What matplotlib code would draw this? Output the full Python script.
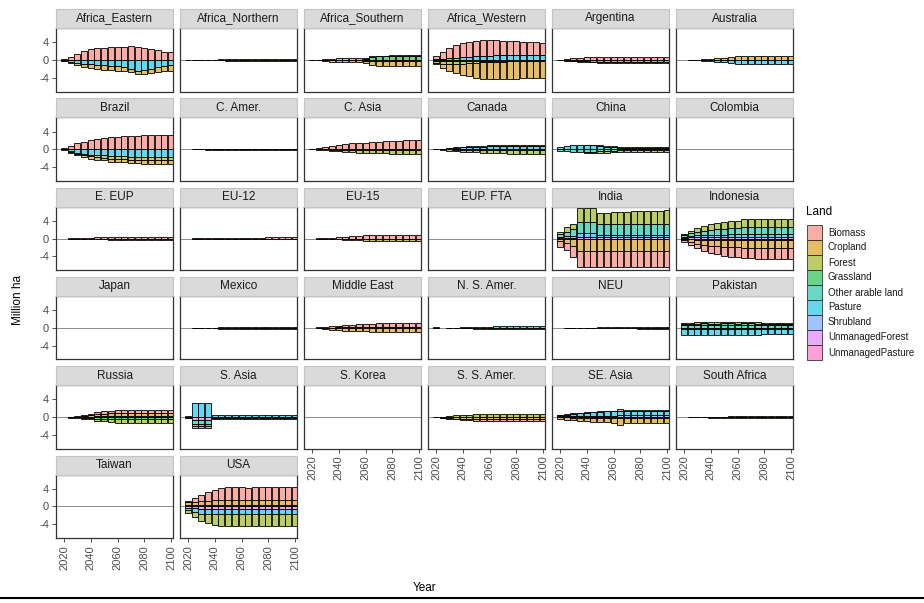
import numpy as np
import matplotlib.pyplot as plt
from matplotlib.patches import Rectangle
from matplotlib.lines import Line2D
from matplotlib.colors import to_rgba

plt.rcParams['font.family'] = ['Liberation Sans', 'DejaVu Sans']

years = np.arange(2020, 2101, 5)
lands = ['Biomass', 'Cropland', 'Forest', 'Grassland', 'Other arable land',
         'Pasture', 'Shrubland', 'UnmanagedForest', 'UnmanagedPasture']
land_colors = ['#F8766D', '#D39200', '#93AA00', '#00BA38', '#00C19F',
               '#00B9E3', '#619CFF', '#DB72FB', '#FF61C3']

# land change per region, million ha, 2020..2100 every 5 years
africa_eastern = {
    'Biomass':  [0.3, 0.7, 1.4, 2.0, 2.4, 2.6, 2.8, 2.9, 2.9, 3.0, 3.1, 3.0, 2.8, 2.5, 2.2, 1.9, 1.7],
    'Pasture':  [-0.2, -0.4, -0.7, -0.9, -1.0, -1.1, -1.2, -1.3, -1.4, -1.5, -2.0, -2.4, -2.2, -2.0, -1.6, -1.3, -1.1],
    'Cropland': [-0.1, -0.3, -0.5, -0.7, -0.9, -1.0, -1.0, -1.0, -1.0, -1.0, -0.8, -0.7, -0.9, -1.0, -1.1, -1.2, -1.3],
}
africa_northern = {
    'Biomass':  [0.0, 0.02, 0.05, 0.08, 0.1, 0.12, 0.15, 0.18, 0.2, 0.22, 0.25, 0.25, 0.28, 0.3, 0.3, 0.3, 0.3],
    'Forest':   [-0.02, -0.04, -0.06, -0.08, -0.1, -0.1, -0.12, -0.12, -0.15, -0.15, -0.15, -0.15, -0.15, -0.15, -0.15, -0.15, -0.15],
}
africa_southern = {
    'Biomass':   [0.05, 0.1, 0.2, 0.3, 0.4, 0.4, 0.45, 0.45, 0.3, 0.2, 0.2, 0.2, 0.2, 0.2, 0.2, 0.2, 0.2],
    'Grassland': [0.0, 0.0, 0.0, 0.0, 0.0, 0.0, 0.0, 0.0, 0.2, 0.7, 0.8, 0.8, 0.9, 0.9, 0.9, 0.9, 0.9],
    'Cropland':  [-0.05, -0.1, -0.2, -0.3, -0.4, -0.4, -0.45, -0.45, -0.5, -0.9, -1.0, -1.0, -1.0, -1.0, -1.0, -1.0, -1.0],
    'Forest':    [0.0, 0.0, -0.05, -0.1, -0.1, -0.1, -0.1, -0.1, -0.2, -0.3, -0.3, -0.3, -0.3, -0.3, -0.3, -0.3, -0.3],
}
africa_western = {
    'Biomass':   [0.8, 1.5, 2.2, 2.8, 3.2, 3.4, 3.5, 3.5, 3.4, 3.3, 3.2, 3.1, 3.0, 2.9, 2.8, 2.8, 2.7],
    'Pasture':   [0.1, 0.2, 0.3, 0.4, 0.5, 0.6, 0.7, 0.8, 0.9, 1.0, 1.0, 1.1, 1.1, 1.1, 1.1, 1.1, 1.1],
    'UnmanagedForest': [0.1, 0.1, 0.1, 0.1, 0.1, 0.1, 0.1, 0.1, 0.1, 0.1, 0.1, 0.1, 0.1, 0.1, 0.1, 0.1, 0.1],
    'Cropland':  [-0.4, -0.9, -1.5, -2.1, -2.6, -3.0, -3.4, -3.7, -3.8, -3.9, -3.9, -3.9, -3.9, -3.8, -3.8, -3.8, -3.8],
    'Forest':    [-0.4, -0.5, -0.6, -0.6, -0.6, -0.5, -0.4, -0.3, -0.2, -0.2, -0.2, -0.1, -0.1, -0.1, -0.1, -0.1, -0.1],
    'Grassland': [-0.2, -0.3, -0.3, -0.3, -0.2, -0.2, -0.2, -0.2, -0.2, -0.2, -0.2, -0.2, -0.2, -0.2, -0.2, -0.2, -0.2],
}
argentina = {
    'Biomass':   [0.05, 0.2, 0.35, 0.5, 0.6, 0.65, 0.7, 0.7, 0.7, 0.7, 0.7, 0.7, 0.7, 0.7, 0.7, 0.7, 0.7],
    'Grassland': [-0.05, -0.1, -0.2, -0.25, -0.3, -0.35, -0.4, -0.4, -0.4, -0.4, -0.4, -0.4, -0.4, -0.4, -0.4, -0.4, -0.4],
    'Forest':    [0.0, -0.05, -0.1, -0.1, -0.15, -0.15, -0.2, -0.2, -0.2, -0.2, -0.2, -0.2, -0.2, -0.2, -0.2, -0.2, -0.2],
}
australia = {
    'Cropland':  [0.0, 0.05, 0.1, 0.2, 0.3, 0.4, 0.5, 0.6, 0.9, 1.0, 1.0, 1.0, 1.0, 1.0, 1.0, 1.0, 1.0],
    'Pasture':   [0.0, -0.05, -0.1, -0.2, -0.3, -0.4, -0.5, -0.6, -0.9, -1.0, -1.0, -1.0, -1.0, -1.0, -1.0, -1.0, -1.0],
}
brazil = {
    'Biomass':   [0.3, 0.8, 1.3, 1.7, 2.0, 2.3, 2.5, 2.7, 2.8, 2.9, 3.0, 3.1, 3.2, 3.2, 3.3, 3.3, 3.3],
    'Pasture':   [-0.2, -0.5, -0.8, -1.0, -1.2, -1.3, -1.4, -1.5, -1.6, -1.6, -1.7, -1.7, -1.8, -1.8, -1.8, -1.8, -1.8],
    'Cropland':  [0.0, -0.2, -0.3, -0.4, -0.5, -0.6, -0.6, -0.7, -0.7, -0.7, -0.8, -0.8, -0.8, -0.8, -0.8, -0.8, -0.8],
    'Forest':    [0.0, -0.1, -0.2, -0.3, -0.4, -0.5, -0.5, -0.6, -0.6, -0.6, -0.7, -0.7, -0.7, -0.7, -0.7, -0.7, -0.7],
}
c_amer = {
    'Biomass':   [0.0, 0.02, 0.04, 0.06, 0.08, 0.1, 0.1, 0.12, 0.12, 0.15, 0.15, 0.15, 0.15, 0.15, 0.15, 0.15, 0.15],
    'Forest':    [0.0, -0.02, -0.04, -0.06, -0.08, -0.1, -0.1, -0.12, -0.12, -0.15, -0.15, -0.15, -0.15, -0.15, -0.15, -0.15, -0.15],
}
c_asia = {
    'Biomass':   [0.1, 0.3, 0.5, 0.7, 0.9, 1.1, 1.2, 1.3, 1.4, 1.5, 1.6, 1.7, 1.8, 1.8, 1.9, 1.9, 2.0],
    'Shrubland': [0.0, 0.0, 0.05, 0.05, 0.1, 0.1, 0.1, 0.1, 0.1, 0.1, 0.1, 0.1, 0.1, 0.1, 0.1, 0.1, 0.1],
    'Forest':    [-0.05, -0.1, -0.2, -0.3, -0.4, -0.5, -0.5, -0.6, -0.6, -0.7, -0.7, -0.7, -0.8, -0.8, -0.8, -0.8, -0.8],
    'Grassland': [0.0, -0.05, -0.05, -0.1, -0.1, -0.1, -0.15, -0.15, -0.15, -0.2, -0.2, -0.2, -0.2, -0.2, -0.2, -0.2, -0.2],
}
canada = {
    'Biomass':   [0.0, 0.05, 0.1, 0.1, 0.15, 0.2, 0.2, 0.2, 0.2, 0.2, 0.2, 0.2, 0.2, 0.2, 0.2, 0.2, 0.2],
    'Pasture':   [0.05, 0.1, 0.2, 0.3, 0.4, 0.5, 0.6, 0.6, 0.7, 0.7, 0.8, 0.8, 0.8, 0.8, 0.8, 0.8, 0.8],
    'Forest':    [-0.05, -0.15, -0.25, -0.35, -0.45, -0.55, -0.6, -0.7, -0.7, -0.8, -0.8, -0.9, -0.9, -0.9, -0.9, -0.9, -0.9],
    'Grassland': [0.0, -0.05, -0.05, -0.1, -0.1, -0.1, -0.1, -0.1, -0.1, -0.1, -0.1, -0.1, -0.1, -0.1, -0.1, -0.1, -0.1],
}
china = {
    'Forest':    [0.0, 0.0, 0.0, 0.0, 0.05, 0.1, 0.15, 0.2, 0.25, 0.3, 0.3, 0.3, 0.3, 0.3, 0.3, 0.3, 0.3],
    'Pasture':   [0.4, 0.7, 0.9, 1.0, 1.0, 0.9, 0.7, 0.5, 0.4, 0.3, 0.3, 0.3, 0.3, 0.3, 0.3, 0.3, 0.3],
    'Other arable land': [-0.3, -0.5, -0.6, -0.7, -0.7, -0.6, -0.5, -0.4, -0.3, -0.2, -0.2, -0.2, -0.2, -0.2, -0.2, -0.2, -0.2],
    'Cropland':  [0.0, 0.0, 0.0, 0.0, -0.1, -0.2, -0.3, -0.35, -0.4, -0.45, -0.5, -0.5, -0.5, -0.5, -0.5, -0.5, -0.5],
}
colombia = {}
e_eup = {
    'Biomass':   [0.0, 0.05, 0.1, 0.15, 0.2, 0.25, 0.3, 0.3, 0.35, 0.35, 0.4, 0.4, 0.4, 0.4, 0.4, 0.4, 0.4],
    'Forest':    [0.0, -0.05, -0.1, -0.1, -0.15, -0.2, -0.2, -0.25, -0.25, -0.3, -0.3, -0.3, -0.3, -0.3, -0.3, -0.3, -0.3],
}
eu_12 = {
    'Biomass':   [0.0, 0.02, 0.05, 0.08, 0.1, 0.12, 0.15, 0.18, 0.2, 0.2, 0.22, 0.22, 0.25, 0.25, 0.25, 0.25, 0.25],
    'Forest':    [0.0, -0.02, -0.05, -0.08, -0.1, -0.1, -0.12, -0.12, -0.15, -0.15, -0.15, -0.15, -0.15, -0.15, -0.15, -0.15, -0.15],
}
eu_15 = {
    'Biomass':   [0.0, 0.05, 0.1, 0.2, 0.3, 0.4, 0.5, 0.6, 0.7, 0.7, 0.8, 0.8, 0.8, 0.8, 0.8, 0.8, 0.8],
    'Forest':    [0.0, -0.05, -0.1, -0.15, -0.2, -0.3, -0.35, -0.4, -0.45, -0.5, -0.5, -0.55, -0.55, -0.6, -0.6, -0.6, -0.6],
}
eup_fta = {}
india = {
    'Forest':    [0.5, 1.0, 1.2, 3.1, 3.1, 3.1, 2.5, 2.6, 2.7, 2.8, 2.8, 2.9, 3.0, 3.0, 3.1, 3.1, 3.2],
    'Other arable land': [0.6, 1.0, 1.5, 2.6, 2.6, 2.6, 2.3, 2.3, 2.3, 2.3, 2.3, 2.3, 2.3, 2.3, 2.3, 2.3, 2.3],
    'Pasture':   [0.2, 0.3, 0.4, 0.8, 0.8, 0.8, 0.6, 0.6, 0.6, 0.6, 0.6, 0.6, 0.6, 0.6, 0.6, 0.6, 0.6],
    'UnmanagedForest': [0.2, 0.2, 0.2, 0.4, 0.4, 0.4, 0.3, 0.3, 0.3, 0.3, 0.3, 0.3, 0.3, 0.3, 0.3, 0.3, 0.3],
    'Cropland':  [-0.6, -1.0, -1.6, -2.8, -2.8, -2.8, -2.7, -2.7, -2.7, -2.7, -2.7, -2.7, -2.7, -2.7, -2.7, -2.7, -2.7],
    'Biomass':   [-1.3, -1.65, -2.6, -3.6, -3.6, -3.6, -3.6, -3.6, -3.6, -3.6, -3.6, -3.6, -3.6, -3.6, -3.6, -3.6, -3.6],
}
indonesia = {
    'Forest':    [0.3, 0.6, 0.9, 1.1, 1.3, 1.4, 1.5, 1.6, 1.6, 1.7, 1.7, 1.7, 1.8, 1.8, 1.8, 1.8, 1.8],
    'Other arable land': [0.4, 0.6, 0.8, 1.0, 1.1, 1.2, 1.3, 1.4, 1.4, 1.5, 1.5, 1.5, 1.5, 1.6, 1.6, 1.6, 1.6],
    'Pasture':   [0.2, 0.3, 0.4, 0.5, 0.5, 0.6, 0.6, 0.6, 0.6, 0.7, 0.7, 0.7, 0.7, 0.7, 0.7, 0.7, 0.7],
    'UnmanagedForest': [0.2, 0.3, 0.3, 0.3, 0.3, 0.3, 0.3, 0.4, 0.4, 0.4, 0.4, 0.4, 0.4, 0.4, 0.4, 0.4, 0.4],
    'UnmanagedPasture': [-0.1, -0.2, -0.3, -0.3, -0.3, -0.3, -0.4, -0.4, -0.4, -0.4, -0.4, -0.4, -0.4, -0.4, -0.4, -0.4, -0.4],
    'Cropland':  [-0.3, -0.6, -0.9, -1.1, -1.3, -1.4, -1.5, -1.6, -1.6, -1.7, -1.7, -1.7, -1.8, -1.8, -1.8, -1.8, -1.8],
    'Biomass':   [-0.4, -0.7, -1.0, -1.3, -1.6, -1.8, -2.0, -2.1, -2.2, -2.3, -2.3, -2.4, -2.4, -2.5, -2.5, -2.5, -2.5],
}
japan = {}
mexico = {
    'Biomass':   [0.0, 0.02, 0.04, 0.06, 0.08, 0.1, 0.12, 0.14, 0.15, 0.16, 0.18, 0.2, 0.2, 0.2, 0.2, 0.2, 0.2],
    'Forest':    [0.0, -0.03, -0.06, -0.09, -0.12, -0.15, -0.18, -0.2, -0.22, -0.24, -0.26, -0.28, -0.3, -0.3, -0.3, -0.3, -0.3],
}
middle_east = {
    'Biomass':   [0.0, 0.1, 0.2, 0.3, 0.4, 0.5, 0.6, 0.7, 0.75, 0.8, 0.85, 0.9, 0.9, 0.95, 0.95, 1.0, 1.0],
    'Shrubland': [0.0, 0.02, 0.05, 0.08, 0.1, 0.12, 0.15, 0.15, 0.15, 0.15, 0.15, 0.15, 0.15, 0.15, 0.15, 0.15, 0.15],
    'Cropland':  [0.0, -0.1, -0.2, -0.3, -0.4, -0.5, -0.6, -0.65, -0.7, -0.75, -0.8, -0.8, -0.85, -0.85, -0.9, -0.9, -0.9],
    'UnmanagedPasture': [0.0, -0.02, -0.05, -0.08, -0.1, -0.1, -0.1, -0.1, -0.1, -0.1, -0.1, -0.1, -0.1, -0.1, -0.1, -0.1, -0.1],
}
n_s_amer = {
    'Other arable land': [0.1, 0.0, 0.02, 0.05, 0.1, 0.15, 0.2, 0.25, 0.3, 0.35, 0.4, 0.4, 0.45, 0.45, 0.5, 0.5, 0.5],
    'Forest':    [-0.05, 0.0, -0.02, -0.05, -0.08, -0.1, -0.15, -0.18, -0.2, -0.22, -0.25, -0.25, -0.28, -0.3, -0.3, -0.3, -0.3],
}
neu = {
    'Biomass':   [0.0, 0.02, 0.03, 0.05, 0.06, 0.08, 0.1, 0.1, 0.12, 0.12, 0.14, 0.14, 0.15, 0.15, 0.15, 0.15, 0.15],
    'Forest':    [0.0, -0.02, -0.03, -0.05, -0.06, -0.08, -0.1, -0.1, -0.12, -0.12, -0.14, -0.14, -0.15, -0.15, -0.15, -0.15, -0.15],
}
pakistan = {
    'Cropland':  [0.3, 0.3, 0.3, 0.3, 0.3, 0.35, 0.35, 0.35, 0.3, 0.4, 0.3, 0.3, 0.3, 0.25, 0.25, 0.25, 0.25],
    'Grassland': [0.3, 0.3, 0.3, 0.3, 0.3, 0.3, 0.3, 0.3, 0.3, 0.3, 0.3, 0.3, 0.3, 0.3, 0.3, 0.3, 0.3],
    'Other arable land': [0.6, 0.6, 0.65, 0.7, 0.65, 0.6, 0.7, 0.7, 0.65, 0.7, 0.7, 0.65, 0.6, 0.6, 0.6, 0.6, 0.6],
    'Pasture':   [-1.3, -1.3, -1.35, -1.4, -1.35, -1.35, -1.4, -1.4, -1.3, -1.45, -1.35, -1.3, -1.25, -1.2, -1.2, -1.2, -1.2],
    'Shrubland': [-0.2, -0.2, -0.2, -0.2, -0.2, -0.2, -0.2, -0.2, -0.2, -0.2, -0.2, -0.2, -0.2, -0.2, -0.2, -0.2, -0.2],
}
russia = {
    'Biomass':   [0.0, 0.05, 0.1, 0.2, 0.3, 0.4, 0.5, 0.6, 0.6, 0.6, 0.6, 0.6, 0.6, 0.6, 0.6, 0.6, 0.6],
    'Cropland':  [0.0, 0.05, 0.1, 0.2, 0.3, 0.5, 0.6, 0.7, 0.8, 0.8, 0.8, 0.8, 0.8, 0.8, 0.8, 0.8, 0.8],
    'Pasture':   [0.0, 0.02, 0.05, 0.1, 0.15, 0.2, 0.2, 0.2, 0.2, 0.2, 0.2, 0.2, 0.2, 0.2, 0.2, 0.2, 0.2],
    'Forest':    [0.0, -0.05, -0.1, -0.2, -0.3, -0.5, -0.6, -0.7, -0.8, -0.8, -0.8, -0.8, -0.8, -0.8, -0.8, -0.8, -0.8],
    'Grassland': [0.0, -0.03, -0.05, -0.1, -0.2, -0.3, -0.35, -0.4, -0.45, -0.5, -0.5, -0.5, -0.5, -0.5, -0.5, -0.5, -0.5],
}
s_asia = {
    'Pasture':   [0.3, 3.2, 3.3, 3.3, 0.5, 0.5, 0.5, 0.5, 0.5, 0.5, 0.5, 0.5, 0.5, 0.5, 0.5, 0.5, 0.5],
    'UnmanagedPasture': [0.0, -0.6, -0.6, -0.6, 0.0, 0.0, 0.0, 0.0, 0.0, 0.0, 0.0, 0.0, 0.0, 0.0, 0.0, 0.0, 0.0],
    'Other arable land': [-0.1, -1.0, -1.0, -1.0, -0.2, -0.2, -0.2, -0.2, -0.2, -0.2, -0.2, -0.2, -0.2, -0.2, -0.2, -0.2, -0.2],
    'Grassland': [-0.1, -0.5, -0.5, -0.5, -0.1, -0.1, -0.1, -0.1, -0.1, -0.1, -0.1, -0.1, -0.1, -0.1, -0.1, -0.1, -0.1],
    'Cropland':  [0.0, -0.3, -0.3, -0.3, 0.0, 0.0, 0.0, 0.0, 0.0, 0.0, 0.0, 0.0, 0.0, 0.0, 0.0, 0.0, 0.0],
}
s_korea = {}
s_s_amer = {
    'Forest':    [0.05, 0.1, 0.2, 0.3, 0.4, 0.5, 0.55, 0.6, 0.65, 0.7, 0.7, 0.7, 0.7, 0.7, 0.7, 0.7, 0.7],
    'Grassland': [0.0, 0.02, 0.05, 0.08, 0.1, 0.1, 0.1, 0.1, 0.1, 0.1, 0.1, 0.1, 0.1, 0.1, 0.1, 0.1, 0.1],
    'Cropland':  [-0.05, -0.1, -0.2, -0.3, -0.35, -0.4, -0.45, -0.5, -0.5, -0.5, -0.5, -0.5, -0.5, -0.5, -0.5, -0.5, -0.5],
    'Biomass':   [0.0, -0.05, -0.1, -0.15, -0.2, -0.25, -0.3, -0.3, -0.3, -0.3, -0.3, -0.3, -0.3, -0.3, -0.3, -0.3, -0.3],
}
se_asia = {
    'Biomass':   [0.05, 0.05, 0.1, 0.1, 0.1, 0.15, 0.15, 0.15, 0.15, 0.4, 0.15, 0.15, 0.15, 0.15, 0.15, 0.15, 0.15],
    'Pasture':   [0.3, 0.4, 0.5, 0.6, 0.7, 0.8, 0.9, 1.0, 1.0, 1.1, 1.1, 1.1, 1.0, 1.0, 1.0, 1.0, 1.0],
    'Shrubland': [0.2, 0.2, 0.3, 0.3, 0.3, 0.3, 0.35, 0.35, 0.35, 0.4, 0.4, 0.4, 0.4, 0.4, 0.4, 0.4, 0.4],
    'Cropland':  [-0.4, -0.5, -0.6, -0.7, -0.8, -0.9, -1.0, -1.0, -1.1, -1.6, -1.2, -1.2, -1.2, -1.2, -1.2, -1.2, -1.2],
    'Forest':    [-0.05, -0.05, -0.1, -0.1, -0.1, -0.1, -0.1, -0.1, -0.1, -0.2, -0.1, -0.1, -0.1, -0.1, -0.1, -0.1, -0.1],
}
south_africa = {
    'Other arable land': [0.0, 0.03, 0.05, 0.08, 0.1, 0.12, 0.15, 0.18, 0.2, 0.2, 0.22, 0.22, 0.25, 0.25, 0.25, 0.25, 0.25],
    'Forest':    [0.0, -0.02, -0.04, -0.06, -0.08, -0.1, -0.12, -0.14, -0.15, -0.15, -0.16, -0.16, -0.18, -0.18, -0.18, -0.18, -0.18],
}
taiwan = {}
usa = {
    'Biomass':   [0.4, 0.8, 1.4, 2.0, 2.4, 2.8, 2.9, 3.0, 3.0, 2.8, 2.9, 2.9, 2.9, 2.9, 2.9, 2.9, 2.9],
    'Cropland':  [0.5, 0.7, 0.8, 0.9, 1.0, 1.0, 1.0, 1.0, 1.0, 1.0, 1.0, 1.0, 1.0, 1.0, 1.0, 1.0, 1.0],
    'Grassland': [0.4, 0.4, 0.4, 0.4, 0.4, 0.4, 0.4, 0.4, 0.4, 0.4, 0.4, 0.4, 0.4, 0.4, 0.4, 0.4, 0.4],
    'UnmanagedPasture': [-0.3, -0.4, -0.5, -0.5, -0.5, -0.5, -0.5, -0.5, -0.5, -0.5, -0.5, -0.5, -0.5, -0.5, -0.5, -0.5, -0.5],
    'Pasture':   [-0.6, -0.8, -1.1, -1.2, -1.3, -1.3, -1.3, -1.3, -1.3, -1.3, -1.3, -1.3, -1.3, -1.3, -1.3, -1.3, -1.3],
    'Forest':    [-0.6, -1.1, -1.7, -2.1, -2.4, -2.6, -2.6, -2.6, -2.6, -2.5, -2.5, -2.5, -2.5, -2.5, -2.5, -2.5, -2.5],
}

region_names = ['Africa_Eastern', 'Africa_Northern', 'Africa_Southern', 'Africa_Western', 'Argentina', 'Australia',
                'Brazil', 'C. Amer.', 'C. Asia', 'Canada', 'China', 'Colombia',
                'E. EUP', 'EU-12', 'EU-15', 'EUP. FTA', 'India', 'Indonesia',
                'Japan', 'Mexico', 'Middle East', 'N. S. Amer.', 'NEU', 'Pakistan',
                'Russia', 'S. Asia', 'S. Korea', 'S. S. Amer.', 'SE. Asia', 'South Africa',
                'Taiwan', 'USA']
region_data = [africa_eastern, africa_northern, africa_southern, africa_western, argentina, australia,
               brazil, c_amer, c_asia, canada, china, colombia,
               e_eup, eu_12, eu_15, eup_fta, india, indonesia,
               japan, mexico, middle_east, n_s_amer, neu, pakistan,
               russia, s_asia, s_korea, s_s_amer, se_asia, south_africa,
               taiwan, usa]

W, H = 924, 603
fig = plt.figure(figsize=(W / 100, H / 100), dpi=100)


def fx(x):
    return x / W


def fy(y):
    return 1 - y / H


def draw_panel(ax, data):
    pos_base = np.zeros(len(years))
    neg_base = np.zeros(len(years))
    # ggplot stacking: first level furthest from zero
    for land, col in reversed(list(zip(lands, land_colors))):
        if land not in data:
            continue
        v = np.array(data[land], dtype=float)
        fc = to_rgba(col, 0.6)
        p = v > 0
        if p.any():
            ax.bar(years[p], v[p], 4.5, bottom=pos_base[p], color=fc,
                   edgecolor='black', linewidth=0.6, zorder=3)
            pos_base[p] += v[p]
        n = v < 0
        if n.any():
            ax.bar(years[n], v[n], 4.5, bottom=neg_base[n], color=fc,
                   edgecolor='black', linewidth=0.6, zorder=3)
            neg_base[n] += v[n]


col_left = [56, 180, 304, 428, 552, 676]
pw, ph = 117, 63.5
row_top = [28, 117.3, 206.6, 295.9, 385.2, 474.5]
strip_h = 19
grey30 = '#4D4D4D'

for i, (name, data) in enumerate(zip(region_names, region_data)):
    r, c = divmod(i, 6)
    left, top = col_left[c], row_top[r]
    ax = fig.add_axes([fx(left), fy(top + ph), pw / W, ph / H])
    ax.axhline(0, color='#8C8C8C', linewidth=0.7, zorder=1)
    draw_panel(ax, data)
    ax.set_xlim(2014, 2101.5)
    ax.set_ylim(-7.1, 7.2)
    for s in ax.spines.values():
        s.set_color('#333333')
        s.set_linewidth(0.9)
    ax.set_yticks([-4, 0, 4])
    ax.set_xticks([2020, 2040, 2060, 2080, 2100])
    bottom_panel = (i + 6) >= len(region_names)
    if c == 0:
        ax.set_yticklabels(['-4', '0', '4'], fontsize=8, color=grey30)
        ax.tick_params(axis='y', length=3, width=0.6, color='#333333', pad=2)
    else:
        ax.tick_params(axis='y', length=0, labelleft=False)
    if bottom_panel:
        ax.set_xticklabels([str(y) for y in [2020, 2040, 2060, 2080, 2100]],
                           rotation=90, fontsize=8, color=grey30)
        ax.tick_params(axis='x', length=3, width=0.6, color='#333333', pad=2)
    else:
        ax.tick_params(axis='x', length=0, labelbottom=False)
    # facet strip
    fig.add_artist(Rectangle((fx(left), fy(top)), pw / W, strip_h / H,
                             transform=fig.transFigure, facecolor='#DADADA',
                             edgecolor='#C4C4C4', linewidth=0.8))
    fig.text(fx(left + pw / 2), fy(top - strip_h / 2), name, ha='center', va='center',
             fontsize=8.5, color='#1A1A1A')

fig.text(fx(18), fy(300), 'Million ha', rotation=90, ha='center', va='center', fontsize=8.5)
fig.text(fx(425), fy(588), 'Year', ha='center', va='center', fontsize=8.5)

# legend
fig.text(fx(806), fy(212), 'Land', ha='left', va='center', fontsize=8.5)
for k, (land, col) in enumerate(zip(lands, land_colors)):
    ky = 225 + k * 15
    fig.add_artist(Rectangle((fx(807), fy(ky + 15)), 15 / W, 15 / H,
                             transform=fig.transFigure, facecolor=to_rgba(col, 0.6),
                             edgecolor='#333333', linewidth=0.6))
    fig.text(fx(828), fy(ky + 7.5), land, ha='left', va='center', fontsize=7, color='#1A1A1A')

fig.add_artist(Line2D([0, 1], [fy(598), fy(598)], transform=fig.transFigure,
                      color='black', linewidth=1.5))

fig.savefig('out.png', dpi=100)
